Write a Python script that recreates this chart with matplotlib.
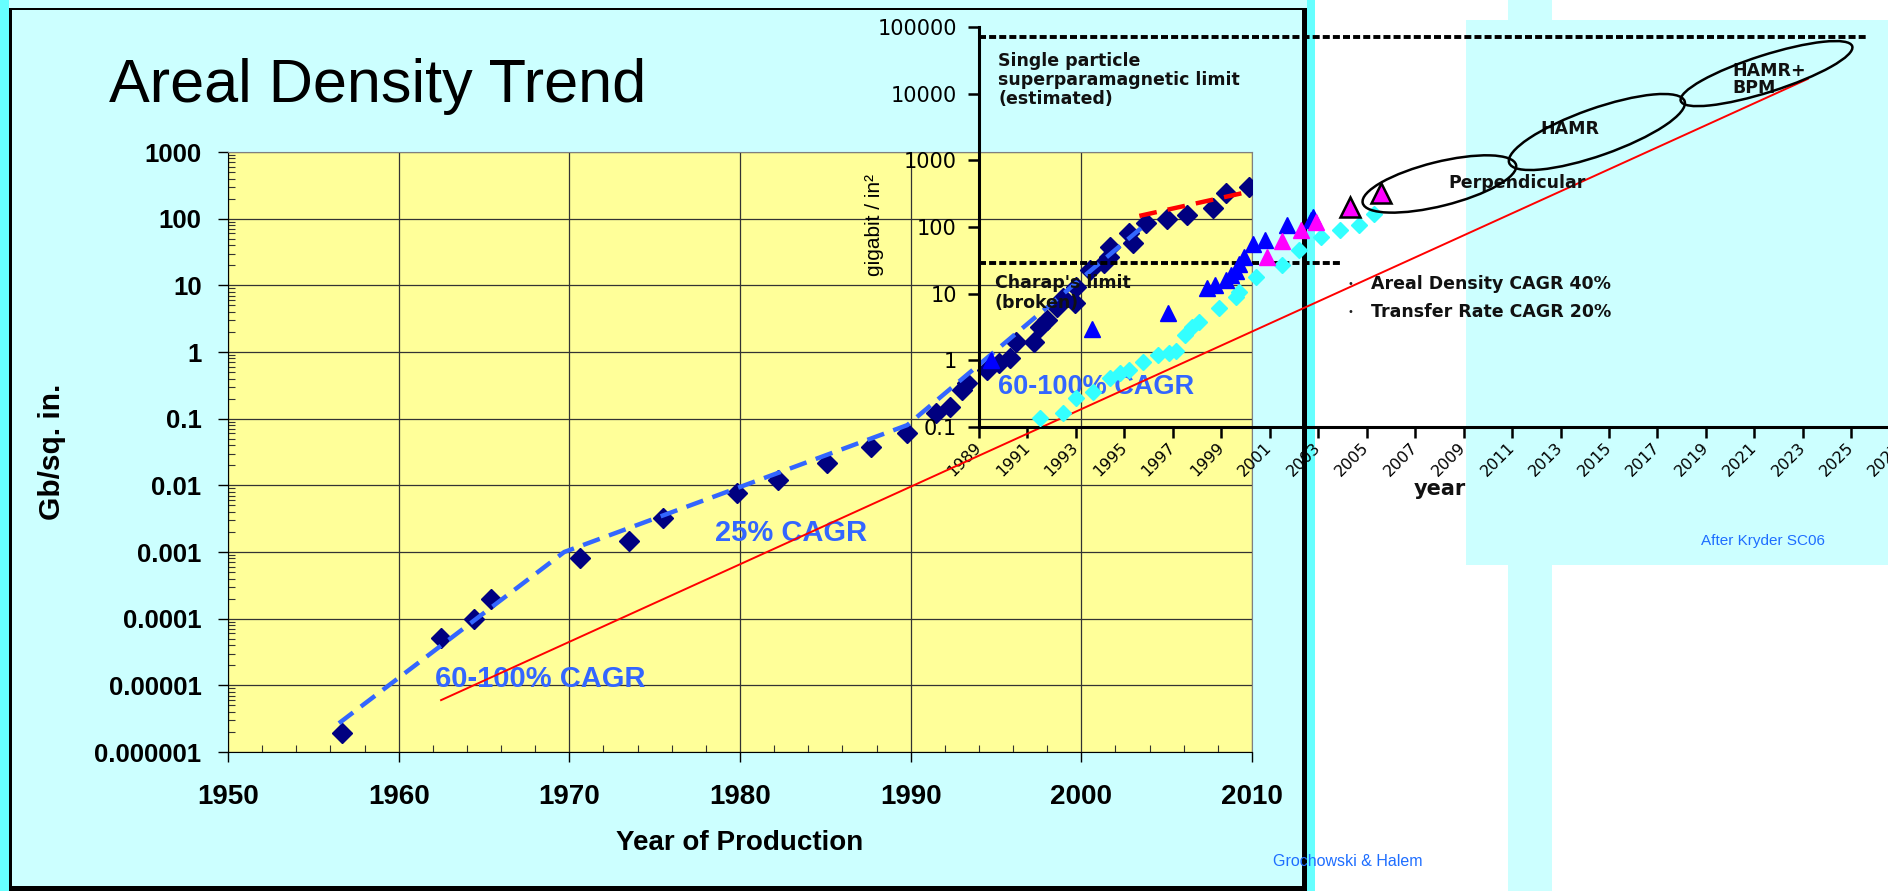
#!/usr/bin/env python3

import matplotlib
matplotlib.use('Agg')
import matplotlib.pyplot as plt
from matplotlib.patches import Rectangle, Ellipse
from matplotlib.transforms import IdentityTransform
from matplotlib.ticker import FixedLocator, LogLocator, NullFormatter, MultipleLocator


# ------------------------------------------
# Data
# ------------------------------------------

# Main chart: areal density of production drives (Gb/sq. in.)
main_years = [1956.7, 1962.5, 1964.4, 1965.4, 1970.6, 1973.5, 1975.5, 1979.8, 1982.2,
              1985.1, 1987.7, 1989.8, 1991.5, 1992.3, 1993.0, 1993.3, 1994.5, 1995.2,
              1995.8, 1996.2, 1997.2, 1997.6, 1998.0, 1998.6, 1998.9, 1999.6, 1999.7,
              2000.5, 2001.3, 2001.6, 2001.7, 2002.8, 2003.0, 2003.8, 2005.0, 2006.2,
              2007.7, 2008.5, 2009.8]
main_vals = [1.9e-6, 5.1e-5, 1.0e-4, 2.0e-4, 8.1e-4, 1.46e-3, 3.2e-3, 7.7e-3, 0.012,
             0.0216, 0.037, 0.061, 0.12, 0.15, 0.27, 0.34, 0.54, 0.68,
             0.81, 1.4, 1.4, 2.4, 3.0, 4.7, 6.5, 5.4, 9.4,
             17, 22, 27, 38, 61, 43, 86, 100, 113,
             145, 240, 300]

# dashed CAGR trend lines of the main chart
trend_years = [1956.5, 1969.7, 1989.8, 2003.5]
trend_vals = [2.7e-6, 1.0e-3, 0.080, 72]
recent_years = [2003.4, 2009.7]
recent_vals = [110, 250]

main_yticks = [1e-6, 1e-5, 1e-4, 1e-3, 1e-2, 1e-1, 1, 10, 100, 1000]
main_ylabels = ['0.000001', '0.00001', '0.0001', '0.001', '0.01', '0.1', '1', '10', '100', '1000']
main_xticks = [1950, 1960, 1970, 1980, 1990, 2000, 2010]

cagr_texts = ['60-100% CAGR', '25% CAGR', '60-100% CAGR']
cagr_years = [1968.3, 1983.0, 2000.85]
cagr_vals = [1.25e-5, 1.9e-3, 0.3]
cagr_sizes = [21, 21, 19.5]

# Inset chart (after Kryder SC06), gigabit / in^2
blue_years = [1989.5, 1993.65, 1996.8, 1998.4, 1998.75, 1999.2, 1999.4, 1999.6, 1999.75,
              1999.95, 2000.3, 2000.8, 2001.7, 2002.7, 2002.8]
blue_vals = [1.0, 3.0, 5.1, 12, 13.5, 16, 19, 22, 28, 36, 56, 63, 107, 126, 141]

pink_years = [2000.9, 2001.5, 2002.3, 2002.9]
pink_vals = [36, 62, 90, 117]
pink_big_years = [2004.3, 2005.6]
pink_big_vals = [200, 320]

cyan_years = [1991.5, 1992.45, 1993.0, 1993.7, 1994.4, 1994.8, 1995.2, 1995.75, 1996.4,
              1996.85, 1997.15, 1997.5, 1997.8, 1998.1, 1998.9, 1999.6, 1999.75, 2000.45,
              2001.5, 2002.2, 2003.1, 2003.9, 2004.7, 2005.3]
cyan_vals = [0.136, 0.16, 0.27, 0.33, 0.54, 0.65, 0.72, 0.94, 1.2,
             1.3, 1.4, 2.4, 3.2, 3.8, 6.1, 9, 10.5, 18,
             27, 45, 71, 90, 107, 158]

# 40% CAGR areal density line
kryder_years = [1966.8, 2023.2]
kryder_vals = [8.0e-6, 16600]

superpara_years = [1989, 2025.7]
superpara_val = 70000
charap_years = [1989, 2004]
charap_val = 29

inset_yticks = [0.1, 1, 10, 100, 1000, 10000, 100000]
inset_ylabels = ['0.1', '1', '10', '100', '1000', '10000', '100000']
inset_xticks = list(range(1989, 2028, 2))

# technology ellipses: centre (year, value), size in px, tilt
ell_names = ['Perpendicular', 'HAMR', 'HAMR+\nBPM']
ell_years = [2008.0, 2014.5, 2021.5]
ell_vals = [442, 2660, 20000]
ell_w = [158, 186, 180]
ell_h = [44, 47, 37]
ell_angle = [14, 19.4, 17.7]
ell_text_years = [2011.2, 2013.4, 2020.1]
ell_text_vals = [457, 2950, 16500]


def main():

    # ------------------------------------------
    # Figure and background panels
    # ------------------------------------------
    W, H, DPI = 1888, 891, 100
    fig = plt.figure(figsize=(W / DPI, H / DPI), dpi=DPI)
    fig.patch.set_facecolor('white')

    def fx(x):
        return x / W

    def fy(y):
        return 1 - y / H

    def box(x0, y0, x1, y1, color, z=-5):
        fig.add_artist(Rectangle((fx(x0), fy(y1)), (x1 - x0) / W, (y1 - y0) / H,
                                 transform=fig.transFigure, facecolor=color,
                                 edgecolor='none', zorder=z))

    box(0, 0, 1315, 891, '#CCFFFF')
    box(0, 0, 9, 891, '#66FFFF')
    box(1307, 0, 1315, 891, '#66FFFF')
    box(1466, 20, 1888, 565, '#CCFFFF')
    box(1508, 0, 1552, 891, '#CCFFFF')
    box(9, 8, 12, 888, 'black', z=-4)
    box(9, 8, 1307, 10, 'black', z=-4)
    box(9, 886, 1307, 891, 'black', z=-4)
    box(1302, 8, 1307, 891, 'black', z=-4)

    main_font = 'Liberation Sans'
    inset_font = 'DejaVu Sans'

    fig.text(fx(378), fy(102), 'Areal Density Trend', fontsize=44, family=main_font,
             ha='center', va='baseline')

    # ------------------------------------------
    # Main chart
    # ------------------------------------------
    ax = fig.add_axes([fx(228), fy(752), (1252 - 228) / W, (752 - 152) / H])
    ax.set_facecolor('#FFFF99')
    ax.set_yscale('log')
    ax.set_xlim(1950, 2010)
    ax.set_ylim(1e-6, 1e3)

    ax.set_yticks(main_yticks)
    ax.set_yticklabels(main_ylabels)
    ax.yaxis.set_minor_locator(LogLocator(base=10, subs=range(2, 10), numticks=20))
    ax.yaxis.set_minor_formatter(NullFormatter())
    ax.set_xticks(main_xticks)
    ax.xaxis.set_minor_locator(MultipleLocator(2))

    ax.tick_params(axis='both', which='major', direction='out', length=7, width=1, color='black')
    ax.tick_params(axis='both', which='minor', direction='in', length=5, width=0.8, color='#333333')
    ax.tick_params(axis='y', which='major', pad=12, labelsize=18.5)
    ax.tick_params(axis='x', which='major', pad=16, labelsize=20)
    for lab in ax.get_xticklabels() + ax.get_yticklabels():
        lab.set_fontfamily(main_font)
        lab.set_fontweight('bold')

    ax.grid(True, which='major', color='#333333', linewidth=0.9)
    ax.set_axisbelow(True)
    for side in ['top', 'right']:
        ax.spines[side].set_color('#808080')
    for side in ['left', 'bottom']:
        ax.spines[side].set_color('black')

    ax.set_xlabel('Year of Production', fontsize=20, fontweight='bold', family=main_font, va='center')
    ax.xaxis.set_label_coords(0.5, -0.152)
    ax.set_ylabel('Gb/sq. in.', fontsize=21.5, fontweight='bold', family=main_font, va='center')
    ax.yaxis.set_label_coords(-0.172, 0.5)

    ax.plot(main_years, main_vals, 'D', color='#000080', markersize=10.5, zorder=3)
    ax.plot(trend_years, trend_vals, '--', color='#3366FF', linewidth=3.2,
            dashes=(4, 2.2), zorder=4)
    ax.plot(recent_years, recent_vals, '--', color='#FF0000', linewidth=3.2,
            dashes=(4, 2.5), zorder=4)

    for txt, x, y, s in zip(cagr_texts, cagr_years, cagr_vals, cagr_sizes):
        ax.text(x, y, txt, color='#3366FF', fontsize=s, fontweight='bold',
                family=main_font, ha='center', va='center', zorder=2)

    # ------------------------------------------
    # Inset chart (Kryder)
    # ------------------------------------------
    ax_in = fig.add_axes([fx(979), fy(427), (1924 - 979) / W, 400 / H])
    ax_in.set_zorder(2)
    ax_in.patch.set_visible(False)
    ax_in.set_yscale('log')
    ax_in.set_xlim(1989, 2028)
    ax_in.set_ylim(0.1, 1e5)
    for side in ['top', 'right']:
        ax_in.spines[side].set_visible(False)
    for side in ['left', 'bottom']:
        ax_in.spines[side].set_linewidth(2.2)

    ax_in.set_yticks(inset_yticks)
    ax_in.set_yticklabels(inset_ylabels)
    ax_in.yaxis.set_minor_locator(FixedLocator([]))
    ax_in.set_xticks(inset_xticks)
    ax_in.set_xticklabels([str(y) for y in inset_xticks], rotation=45, ha='right',
                          va='center', rotation_mode='anchor')
    ax_in.tick_params(axis='both', which='major', direction='out', length=8, width=1.8)
    ax_in.tick_params(axis='y', labelsize=15, pad=8)
    ax_in.tick_params(axis='x', labelsize=11.5, pad=5)
    for lab in ax_in.get_xticklabels() + ax_in.get_yticklabels():
        lab.set_fontfamily(inset_font)

    ax_in.set_ylabel('gigabit / in²', fontsize=15, family=main_font, va='center')
    ax_in.yaxis.set_label_coords(-0.111, 0.505)

    ax_in.plot(kryder_years, kryder_vals, '-', color='#FF0000', linewidth=1.4, clip_on=False, zorder=2)
    ax_in.plot(superpara_years, [superpara_val] * 2, color='black', linewidth=2.8,
               dashes=(1.8, 0.8), clip_on=False, zorder=2)
    ax_in.plot(charap_years, [charap_val] * 2, color='black', linewidth=2.8,
               dashes=(1.8, 0.8), clip_on=False, zorder=2)

    ax_in.plot(cyan_years, cyan_vals, 'D', color='#33FFFF', markersize=8.5, zorder=3, clip_on=False)
    ax_in.plot(blue_years, blue_vals, '^', color='#0000FF', markersize=11, zorder=4, clip_on=False)
    ax_in.plot(pink_years, pink_vals, '^', color='#FF00FF', markersize=11, zorder=4, clip_on=False)
    ax_in.plot(pink_big_years, pink_big_vals, '^', color='#FF00FF', markeredgecolor='black',
               markeredgewidth=1.8, markersize=15, zorder=5, clip_on=False)

    kfont = dict(family=inset_font, fontweight='bold', color='#111111')
    ax_in.text(fx(998), fy(80), 'Single particle\nsuperparamagnetic limit\n(estimated)',
               transform=fig.transFigure, fontsize=12.5, ha='left', va='center',
               linespacing=1.1, **kfont)
    ax_in.text(fx(995), fy(293), "Charap's limit\n(broken)", transform=fig.transFigure,
               fontsize=12.5, ha='left', va='center', linespacing=1.1, **kfont)

    # technology ellipses
    for name, x, y, w, h, a, tx, ty in zip(ell_names, ell_years, ell_vals, ell_w, ell_h,
                                           ell_angle, ell_text_years, ell_text_vals):
        cx, cy = ax_in.transData.transform((x, y))
        fig.add_artist(Ellipse((cx, cy), w, h, angle=a, transform=IdentityTransform(),
                               facecolor='none', edgecolor='black', linewidth=1.8, zorder=6))
        ha = 'left' if '\n' in name else 'center'
        ax_in.text(tx, ty, name, fontsize=12.5, ha=ha, va='center', linespacing=0.95,
                   clip_on=False, zorder=7, **kfont)

    fig.text(fx(1350), fy(284), '•', fontsize=7, ha='center', va='center', color='#222222')
    fig.text(fx(1350), fy(312), '•', fontsize=7, ha='center', va='center', color='#222222')
    fig.text(fx(1371), fy(284), 'Areal Density CAGR 40%', fontsize=12.5, ha='left', va='center', **kfont)
    fig.text(fx(1371), fy(312), 'Transfer Rate CAGR 20%', fontsize=12.5, ha='left', va='center', **kfont)
    fig.text(fx(1440), fy(489), 'year', fontsize=15, ha='center', va='center', **kfont)

    fig.text(fx(1701), fy(541), 'After Kryder SC06', fontsize=11, family=main_font,
             color='#1E6EFF', ha='left', va='center')
    fig.text(fx(1273), fy(862), 'Grochowski & Halem', fontsize=11.5, family=main_font,
             color='#1E6EFF', ha='left', va='center')

    fig.savefig('out.png', dpi=DPI)


if __name__ == "__main__":
    main()
